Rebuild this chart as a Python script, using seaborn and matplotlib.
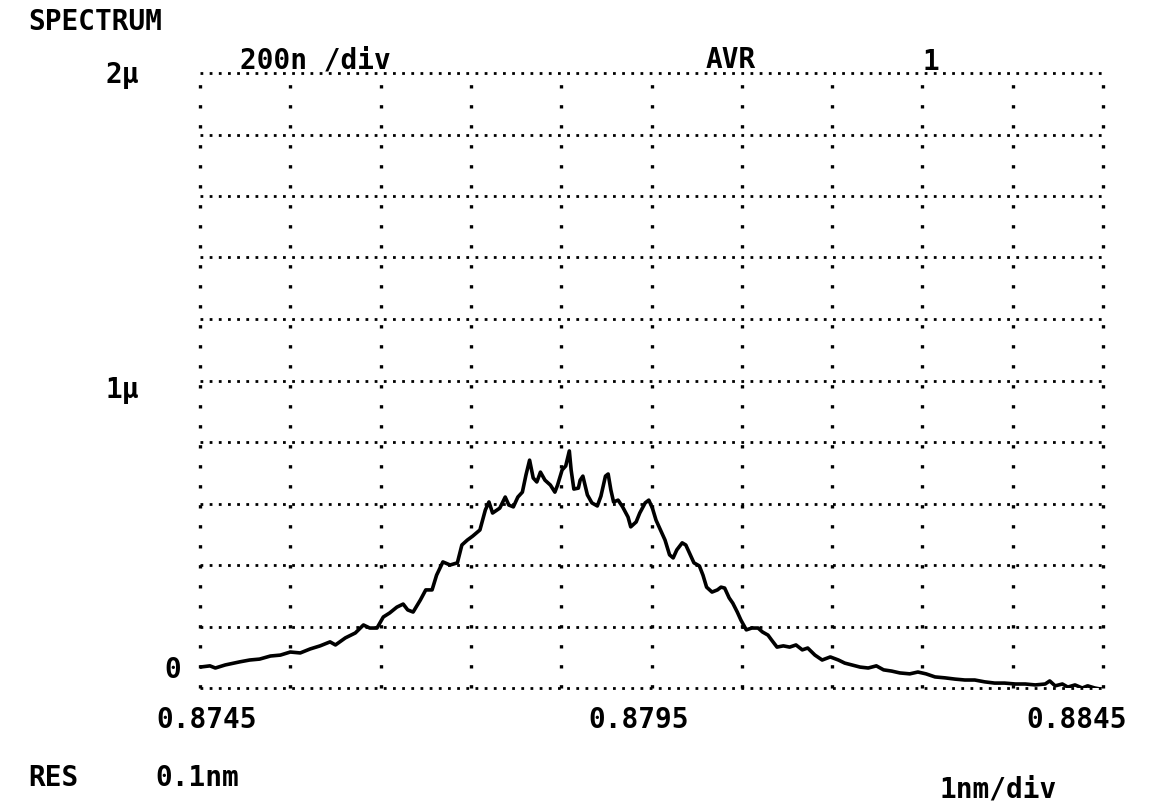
import numpy as np
import pandas as pd
import matplotlib
matplotlib.use("Agg")
import matplotlib.pyplot as plt
import matplotlib.transforms as mtransforms
import seaborn as sns

# ---- data ----
wavelength_nm = [
    874.50, 874.61, 874.67, 874.78, 874.94, 875.05, 875.16, 875.28, 875.39, 875.50,
    875.61, 875.72, 875.83, 875.94, 876.00, 876.11, 876.22, 876.31, 876.38, 876.46,
    876.53, 876.60, 876.68, 876.75, 876.80, 876.86, 876.94, 877.00, 877.07, 877.12,
    877.19, 877.27, 877.35, 877.40, 877.46, 877.52, 877.60, 877.66, 877.70, 877.74,
    877.82, 877.88, 877.92, 877.97, 878.02, 878.07, 878.11, 878.15, 878.19, 878.23,
    878.27, 878.32, 878.38, 878.43, 878.46, 878.51, 878.55, 878.59, 878.61, 878.64,
    878.69, 878.71, 878.74, 878.79, 878.84, 878.90, 878.94, 878.99, 879.02, 879.05,
    879.08, 879.13, 879.18, 879.24, 879.27, 879.33, 879.37, 879.43, 879.47, 879.51,
    879.55, 879.59, 879.65, 879.70, 879.74, 879.78, 879.84, 879.88, 879.93, 879.97,
    880.03, 880.07, 880.11, 880.17, 880.23, 880.27, 880.31, 880.36, 880.40, 880.45,
    880.49, 880.55, 880.61, 880.68, 880.73, 880.79, 880.83, 880.89, 880.96, 881.03,
    881.10, 881.17, 881.23, 881.31, 881.39, 881.48, 881.57, 881.64, 881.72, 881.81,
    881.90, 881.99, 882.07, 882.16, 882.25, 882.36, 882.45, 882.54, 882.64, 882.75,
    882.86, 882.97, 883.08, 883.19, 883.30, 883.41, 883.53, 883.64, 883.75, 883.86,
    883.91, 883.97, 884.05, 884.11, 884.19, 884.27, 884.33, 884.41, 884.50,
]
power_u = [
    0.068, 0.072, 0.065, 0.075, 0.085, 0.091, 0.094, 0.104, 0.107, 0.117,
    0.114, 0.127, 0.137, 0.150, 0.140, 0.163, 0.179, 0.205, 0.195, 0.195,
    0.231, 0.244, 0.263, 0.273, 0.254, 0.247, 0.286, 0.319, 0.319, 0.367,
    0.410, 0.400, 0.407, 0.465, 0.481, 0.494, 0.514, 0.579, 0.605, 0.569,
    0.585, 0.621, 0.595, 0.589, 0.621, 0.637, 0.693, 0.741, 0.683, 0.670,
    0.702, 0.676, 0.660, 0.637, 0.660, 0.709, 0.722, 0.771, 0.709, 0.647,
    0.650, 0.676, 0.689, 0.628, 0.602, 0.592, 0.624, 0.689, 0.696, 0.644,
    0.605, 0.611, 0.589, 0.556, 0.524, 0.540, 0.569, 0.602, 0.611, 0.585,
    0.546, 0.520, 0.481, 0.433, 0.423, 0.449, 0.472, 0.465, 0.433, 0.407,
    0.397, 0.367, 0.328, 0.312, 0.319, 0.328, 0.325, 0.293, 0.276, 0.247,
    0.221, 0.189, 0.195, 0.195, 0.182, 0.172, 0.156, 0.133, 0.137, 0.133,
    0.140, 0.124, 0.130, 0.107, 0.091, 0.101, 0.091, 0.081, 0.075, 0.068,
    0.065, 0.072, 0.059, 0.055, 0.049, 0.046, 0.052, 0.046, 0.036, 0.033,
    0.029, 0.026, 0.026, 0.020, 0.016, 0.016, 0.013, 0.013, 0.010, 0.013,
    0.023, 0.007, 0.013, 0.003, 0.010, 0.000, 0.007, 0.000, -0.005,
]
x_tick_values = [874.5, 879.5, 884.5]
x_tick_labels = ["0.8745", "0.8795", "0.8845"]
y_label_values = [2.0, 1.0, 0.0]
y_label_texts = ["2μ", "1μ", "0"]

df = pd.DataFrame({"wavelength": wavelength_nm, "power": power_u})

# ---- style ----
sns.set_style("white")
plt.rcParams["font.family"] = ["DejaVu Sans Mono", "DejaVu Sans"]
plt.rcParams["text.color"] = "black"

fig = plt.figure(figsize=(11.63, 8.11), dpi=100)
fig.patch.set_facecolor("white")
ax = fig.add_axes([200 / 1163, 123 / 811, 903 / 1163, 615 / 811])
ax.set_facecolor("white")

sns.lineplot(data=df, x="wavelength", y="power", ax=ax, color="black",
             linewidth=2.6, estimator=None, sort=False)

ax.set_xlim(874.5, 884.5)
ax.set_ylim(0, 2.0)
for s in ax.spines.values():
    s.set_visible(False)

# dotted grid: 10 divisions each way
ax.set_xticks(np.arange(874.5, 884.51, 1.0))
ax.set_yticks(np.arange(0, 2.01, 0.2))
ax.set_xticklabels([])
ax.set_yticklabels([])
ax.tick_params(length=0)
ax.xaxis.grid(True, color="black", linewidth=2.4, linestyle=(0, (1, 5.0)))
ax.yaxis.grid(True, color="black", linewidth=2.0, linestyle=(0, (1, 2.3)))
ax.set_axisbelow(True)
for gl in ax.get_xgridlines() + ax.get_ygridlines():
    gl.set_clip_on(False)
ax.set_xlabel("")
ax.set_ylabel("")

fs = 20
fw = "bold"
# x labels under the grid
offsets_px = [7, -13, -26]
for xv, lab, off in zip(x_tick_values, x_tick_labels, offsets_px):
    tr = ax.get_xaxis_transform() + mtransforms.ScaledTranslation(off / 100, 0, fig.dpi_scale_trans)
    ax.text(xv, -0.052, lab, transform=tr, ha="center", va="center",
            fontsize=fs, fontweight=fw, color="black")

# y labels
ytr = ax.get_yaxis_transform()
ax.text(-0.105, y_label_values[0] - 0.006, y_label_texts[0], transform=ytr, ha="left",
        va="center", fontsize=fs, fontweight=fw, color="black")
ax.text(-0.105, y_label_values[1] - 0.03, y_label_texts[1], transform=ytr, ha="left",
        va="center", fontsize=fs, fontweight=fw, color="black")
ax.text(-0.021, y_label_values[2] + 0.06, y_label_texts[2], transform=ytr, ha="right",
        va="center", fontsize=fs, fontweight=fw, color="black")

# header / footer annotations
kw = dict(fontsize=fs, fontweight=fw, color="black", va="center", ha="left")
ax.text(0.044, 1.021, "200n /div", transform=ax.transAxes, **kw)
ax.text(0.56, 1.021, "AVR", transform=ax.transAxes, **kw)
ax.text(0.80, 1.018, "1", transform=ax.transAxes, **kw)
fig.text(28 / 1163, 1 - 22 / 811, "SPECTRUM", **kw)
fig.text(28 / 1163, 1 - 778 / 811, "RES", **kw)
fig.text(155 / 1163, 1 - 778 / 811, "0.1nm", **kw)
fig.text(940 / 1163, 1 - 790 / 811, "1nm/div", **kw)

fig.savefig("out.png", dpi=100, facecolor="white")
